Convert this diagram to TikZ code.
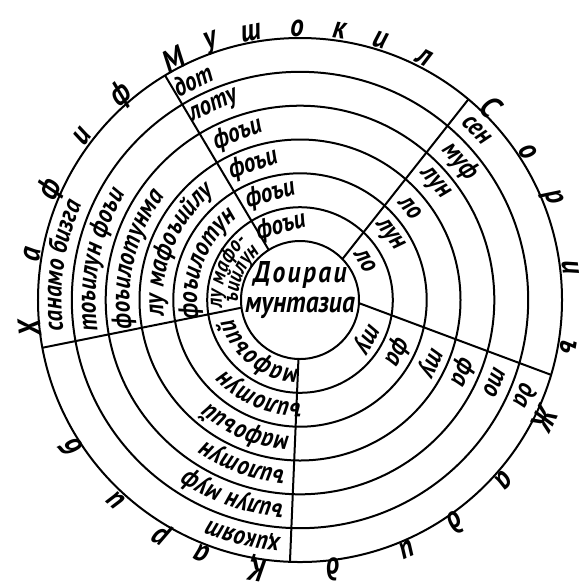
\documentclass[tikz,border=0pt]{standalone}
\usepackage{fontspec}
\setmainfont{PT Sans}[FakeStretch=0.85]
\usetikzlibrary{decorations.text}

\newcommand\ringfont{\bfseries\itshape\fontsize{13.5}{13.5}\selectfont}
\newcommand\smallringfont{\bfseries\itshape\fontsize{11}{11}\selectfont}
% long text set along a ring, centred on an angle, read clockwise
\newcommand\ringword[4][\ringfont]{%
  \path[decorate,decoration={text along path,text align=center,text={|#1|#4}}]
    (#3+80:#2) arc[start angle=#3+80,end angle=#3-80,radius=#2];}

\tikzset{
  shortword/.style={font=\ringfont,inner sep=0pt},
  meterletter/.style={font=\bfseries\itshape\fontsize{16}{16}\selectfont,inner sep=0pt},
  centretext/.style={font=\bfseries\itshape\fontsize{15}{15}\selectfont,anchor=base},
}

\begin{document}
\begin{tikzpicture}[x=0.5pt,y=0.5pt,line width=1pt]
  \useasboundingbox (-300,-285) rectangle (287,300);
  % rings
  \foreach \r in {59,92.8,126.7,160.5,194.3,228.2,262} {
    \draw (0,0) circle[radius=\r];
  }
  % dividers
  \draw (122:59) -- (121:262);
  \draw (44:59) -- (50:262);
  \draw (-3:59) -- (-16.6:262);
  \draw (-91.5:59) -- (-92.2:262);
  \draw (187.5:59) -- (190.5:262);

  \node[centretext] (doira) at (0,18) {\addfontfeature{LetterSpace=8}Доираи};
  \node[centretext] (muntazi) at (0,-12) {мунтазиа};

  % top sector
  \foreach \a/\r/\t [count=\i] in {104.5/75.9/фоъи, 105.7/109.7/фоъи,
      109/143.6/фоъи, 110.6/177.4/фоъи, 114/211.2/лоту, 116/245.1/дот} {
    \node[shortword,rotate=\a-90] (top\i) at (\a:\r) {\t};
  }
  % upper right sector
  \foreach \a/\r/\t [count=\i] in {31/75.9/ло, 36/109.7/лун, 40/143.6/ло,
      41/177.4/лун, 41/211.2/муф, 44/245.1/сен} {
    \node[shortword,rotate=\a-90] (upright\i) at (\a:\r) {\t};
  }
  % lower right sector
  \foreach \a/\r/\t [count=\i] in {-30/75.9/ту, -28/109.7/фа, -25.5/143.6/ту,
      -24/177.4/фа, -23/211.2/то, -23/245.1/да} {
    \node[shortword,rotate=\a-90] (lowright\i) at (\a:\r) {\t};
  }
  % left sector
  \ringword[\smallringfont]{78}{159}{лу мафо-}
  \ringword[\smallringfont]{62}{156}{ъийлун}
  \ringword{103}{159}{фоъилотун}
  \ringword{137}{157.6}{лу мафоъийлу}
  \ringword{170.5}{166}{фоъилотунма}
  \ringword{204.5}{168.7}{тоъилун фоъи}
  \ringword{238.5}{171.8}{санамо бизга}
  % bottom sector
  \ringword{69}{232}{мафоъий}
  \ringword{103}{247}{ъилотун}
  \ringword{137}{247}{мафоъий}
  \ringword{170.5}{250.6}{ъилотун}
  \ringword{204.5}{251}{ъилун муф}
  \ringword{238.5}{256.4}{ҳикоят}

  % names of the metres round the outside
  \foreach \a/\c [count=\i] in {186.1/Х, 170.4/а, 156.1/ф, 143/и, 131.1/ф,
      117.8/М, 108.9/у, 100.4/ш, 90.6/о, 81.7/к, 72.8/и, 62.9/л,
      45.4/С, 32.9/о, 22/р, 6.8/и, -9.9/ъ,
      -25.8/Ж, -41.3/а, -55/д, -66.7/и, -82.9/д,
      -99/Қ, -111/а, -120.5/р, -132.5/и, -147.1/б} {
    \node[meterletter,rotate=\a-90] (let\i) at (\a:272) {\c};
  }
\end{tikzpicture}
\end{document}
